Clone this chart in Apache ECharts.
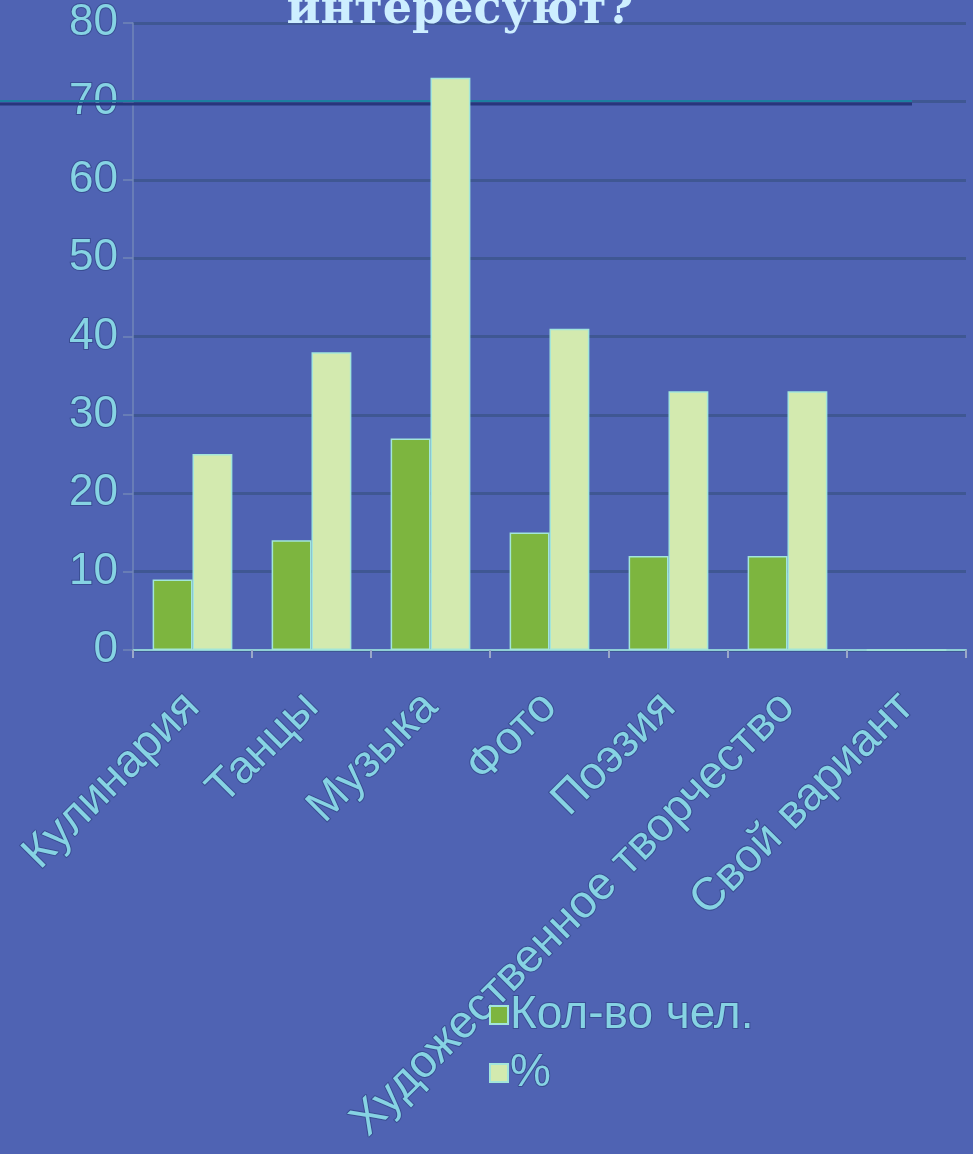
<!DOCTYPE html>
<html>
<head>
<meta charset="utf-8">
<script src="https://cdn.jsdelivr.net/npm/echarts@6/dist/echarts.min.js"></script>
<style>
html,body{margin:0;padding:0;background:#4f63b3;}
#c{width:973px;height:1154px;}
</style>
</head>
<body>
<div id="c"></div>
<script>
const categories = ['Кулинария', 'Танцы', 'Музыка', 'Фото', 'Поэзия', 'Художественное творчество', 'Свой вариант'];
const seriesNames = ['Кол-во чел.', '%'];
const countValues = [9, 14, 27, 15, 12, 12, 0];
const percentValues = [25, 38, 73, 41, 33, 33, 0];
const yTicks = [0, 10, 20, 30, 40, 50, 60, 70, 80];
const titleText = 'интересуют?';

const txt = '#86d3e3';
const txtBorder = 'rgba(40,60,120,0.55)';

const chart = echarts.init(document.getElementById('c'), null, {renderer: 'canvas'});
chart.setOption({
  backgroundColor: '#4f63b3',
  animation: false,
  title: {
    text: titleText,
    left: 455,
    textAlign: 'center',
    top: -17,
    textStyle: {
      fontFamily: 'DejaVu Serif',
      fontWeight: 'bold',
      fontSize: 46,
      color: '#cdeeff'
    }
  },
  graphic: [
    {type: 'line', z: 1, shape: {x1: 0, y1: 101, x2: 912, y2: 101}, style: {stroke: '#1c7fa0', lineWidth: 2}},
    {type: 'line', z: 1, shape: {x1: 0, y1: 104, x2: 912, y2: 104}, style: {stroke: '#27367c', lineWidth: 3}}
  ],
  legend: {
    orient: 'vertical',
    left: 484,
    top: 986,
    itemWidth: 18,
    itemHeight: 18,
    itemGap: 10,
    icon: 'rect',
    textStyle: {
      fontFamily: 'Liberation Sans',
      fontSize: 46,
      color: txt,
      textBorderColor: txtBorder,
      textBorderWidth: 2,
      padding: [0, 0, 0, -3]
    },
    data: seriesNames
  },
  grid: {
    left: 133,
    right: 7,
    top: 22,
    bottom: 504,
    containLabel: false
  },
  xAxis: {
    type: 'category',
    data: categories,
    axisLine: {lineStyle: {color: '#8fcfd6', width: 2}},
    axisTick: {show: true, alignWithLabel: false, length: 8, lineStyle: {color: '#9aa8c8', width: 2}},
    axisLabel: {
      rotate: 45,
      margin: 50,
      interval: 0,
      fontFamily: 'Liberation Sans',
      fontSize: 46,
      color: txt,
      textBorderColor: txtBorder,
      textBorderWidth: 2
    }
  },
  yAxis: {
    type: 'value',
    min: 0,
    max: 80,
    interval: 10,
    axisLine: {show: true, lineStyle: {color: '#7186b8', width: 1.5}},
    axisTick: {show: true, length: 10, lineStyle: {color: '#7186b8', width: 1.5}},
    splitLine: {show: true, lineStyle: {color: '#3f5793', width: 3}},
    axisLabel: {
      margin: 15,
      fontFamily: 'Liberation Sans',
      fontSize: 44,
      color: txt,
      textBorderColor: txtBorder,
      textBorderWidth: 2,
      formatter: function (v) { return yTicks.indexOf(v) >= 0 ? String(v) : ''; }
    }
  },
  series: [
    {
      name: seriesNames[0],
      type: 'bar',
      data: countValues,
      barGap: '0%',
      barCategoryGap: '33%',
      z: 3,
      itemStyle: {color: '#7db53f', borderColor: '#a3e6da', borderWidth: 1.5}
    },
    {
      name: seriesNames[1],
      type: 'bar',
      data: percentValues,
      z: 3,
      itemStyle: {color: '#d3eaaf', borderColor: '#a3e6da', borderWidth: 1.5}
    }
  ]
});
</script>
</body>
</html>
